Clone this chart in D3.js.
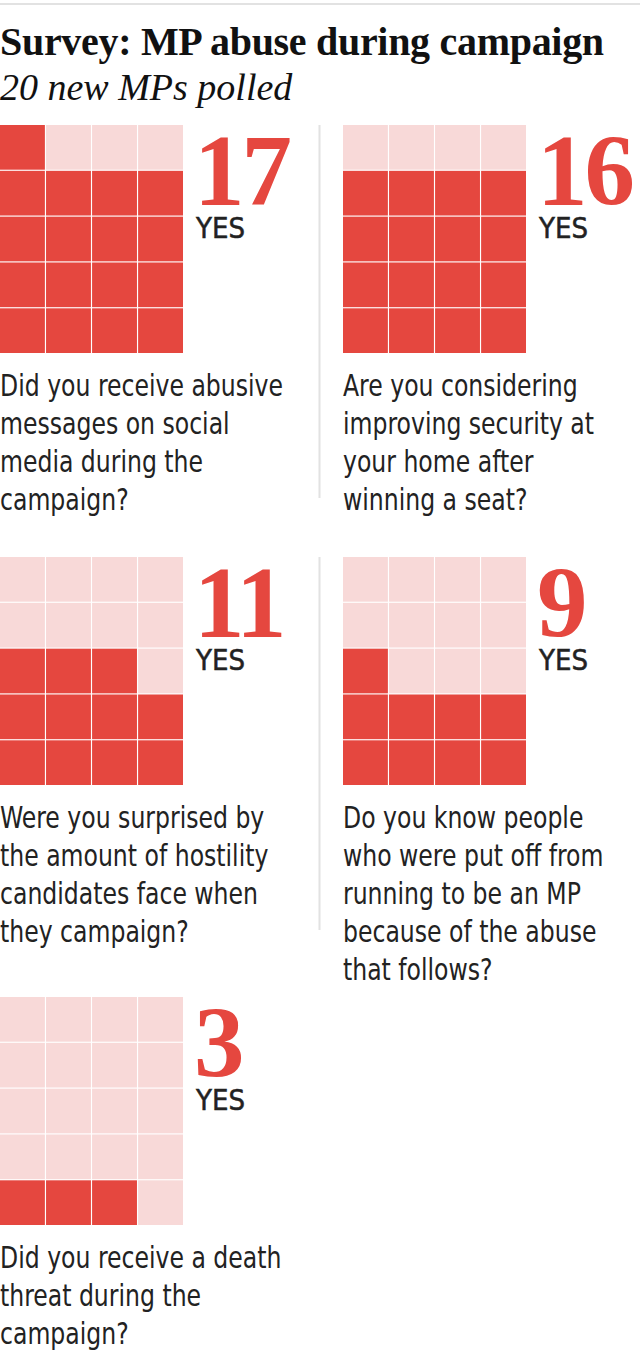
<!DOCTYPE html>
<html>
<head>
<meta charset="utf-8">
<script src="https://cdn.jsdelivr.net/npm/d3@7"></script>
<style>
  html, body { margin: 0; padding: 0; background: #fff; }
  svg { display: block; }
</style>
</head>
<body>
<svg id="chart" width="640" height="1355"></svg>
<script>
// ---- data ----
const title = "Survey: MP abuse during campaign";
const subtitle = "20 new MPs polled";
const yesCounts = [17, 16, 11, 9, 3];
const totalPolled = 20;
const yesLabel = "YES";
const questions = [
  ["Did you receive abusive", "messages on social", "media during the", "campaign?"],
  ["Are you considering", "improving security at", "your home after", "winning a seat?"],
  ["Were you surprised by", "the amount of hostility", "candidates face when", "they campaign?"],
  ["Do you know people", "who were put off from", "running to be an MP", "because of the abuse", "that follows?"],
  ["Did you receive a death", "threat during the", "campaign?"]
];

// ---- layout ----
const RED = "#e5473f", PINK = "#f8d9d8";
const SANS = "DejaVu Sans Condensed, DejaVu Sans, sans-serif";
const nCols = 4, nRows = 5;
const gridW = 183, gridH = 228;
const colX = [0, 343];
const rowY = [125, 557, 997];
const svg = d3.select("#chart");

svg.append("rect").attr("x", 0).attr("y", 3).attr("width", 640).attr("height", 2).attr("fill", "#e2e2e2");

svg.append("text").attr("x", 0).attr("y", 55)
  .attr("font-family", "Liberation Serif, serif").attr("font-weight", "bold")
  .attr("font-size", 40).attr("fill", "#111").attr("letter-spacing", -0.3).text(title);
svg.append("text").attr("x", 0).attr("y", 100)
  .attr("font-family", "Liberation Serif, serif").attr("font-style", "italic")
  .attr("font-size", 38).attr("fill", "#111").text(subtitle);

const xCell = d3.scaleBand().domain(d3.range(nCols)).range([0, gridW]).paddingInner(0.025);
const yCell = d3.scaleBand().domain(d3.range(nRows)).range([0, gridH]).paddingInner(0.025);

// dividers
[0, 1].forEach(r => {
  svg.append("rect").attr("x", 318.5).attr("y", rowY[r]).attr("width", 2).attr("height", 373).attr("fill", "#e2e2e2");
});

const panels = svg.selectAll("g.panel").data(yesCounts).join("g")
  .attr("class", "panel")
  .attr("transform", (d, i) => `translate(${colX[i % 2]},${rowY[Math.floor(i / 2)]})`);

panels.each(function(count, i) {
  const g = d3.select(this);
  // cells: filled from bottom row upward, left to right
  const cells = d3.range(totalPolled).map(k => {
    const rFromBottom = Math.floor(k / nCols);
    return { row: nRows - 1 - rFromBottom, col: k % nCols, yes: k < count };
  });
  g.selectAll("rect.cell").data(cells).join("rect")
    .attr("class", "cell")
    .attr("x", d => xCell(d.col)).attr("y", d => yCell(d.row))
    .attr("width", xCell.bandwidth()).attr("height", yCell.bandwidth())
    .attr("fill", d => d.yes ? RED : PINK);

  g.append("text").attr("x", 194).attr("y", 80)
    .attr("font-family", "Liberation Serif, serif").attr("font-weight", "bold")
    .attr("font-size", 101).attr("fill", RED).attr("letter-spacing", -3).text(count);
  g.append("text").attr("x", 196).attr("y", 113)
    .attr("font-family", SANS)
    .attr("font-size", 29).attr("fill", "#222").attr("stroke", "#222").attr("stroke-width", 0.5)
    .text(yesLabel);

  const tg = g.append("g").attr("transform", "scale(0.845,1)");
  tg.selectAll("text.q").data(questions[i]).join("text")
    .attr("class", "q")
    .attr("x", 0).attr("y", (d, j) => 271 + j * 38)
    .attr("font-family", SANS)
    .attr("font-size", 31).attr("fill", "#222").text(d => d);
});
</script>
</body>
</html>
